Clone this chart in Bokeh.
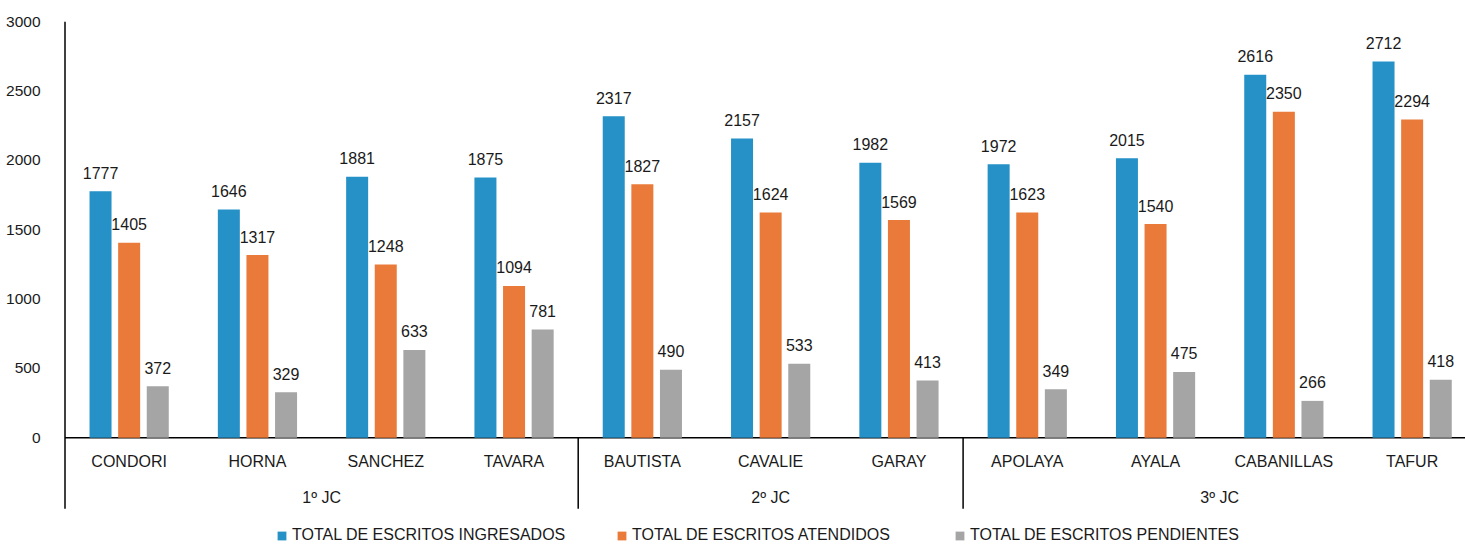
from bokeh.plotting import figure
from bokeh.models import (Range1d, FixedTicker, LinearAxis, Legend, LegendItem,
                          ColumnDataSource)
from bokeh.core.properties import value
from bokeh.embed import file_html
from bokeh.resources import INLINE
import numpy as np

# ---- data ----
categories = ["CONDORI", "HORNA", "SANCHEZ", "TAVARA", "BAUTISTA", "CAVALIE",
              "GARAY", "APOLAYA", "AYALA", "CABANILLAS", "TAFUR"]
groups = ["1º JC", "2º JC", "3º JC"]
group_sizes = [4, 3, 4]
ingresados = [1777, 1646, 1881, 1875, 2317, 2157, 1982, 1972, 2015, 2616, 2712]
atendidos = [1405, 1317, 1248, 1094, 1827, 1624, 1569, 1623, 1540, 2350, 2294]
pendientes = [372, 329, 633, 781, 490, 533, 413, 349, 475, 266, 418]
series_names = ["TOTAL DE ESCRITOS INGRESADOS", "TOTAL DE ESCRITOS ATENDIDOS",
                "TOTAL DE ESCRITOS PENDIENTES"]
y_ticks = [0, 500, 1000, 1500, 2000, 2500, 3000]

# ---- style / layout ----
COLORS = ["#2591C7", "#EA7A39", "#A5A5A5"]
FONT = "Liberation Sans"
TXT = "#1a1a1a"
W, H = 1465, 544
LEFT, TOP = 62, 21
PLOT_H_0_3000 = 416.3               # pixels between 0 and 3000
UPP = 3000 / PLOT_H_0_3000          # data units per pixel (y)
Y_MIN = -(H - TOP - PLOT_H_0_3000) * UPP
CAT_PX = 128.3                      # pixels per category
XPP = 2.0 / CAT_PX                  # x data units per pixel (2 units / category)
X_MIN = -2.5 * XPP
X_MAX = X_MIN + (W - LEFT) * XPP
AXIS_DROP = -71 * UPP               # bottom of the category / group separators

CAT_W = 2.0
centers = np.arange(len(categories)) * CAT_W + CAT_W / 2
offsets = [-0.446, 0.0, 0.446]
BAR_W = 0.343

p = figure(width=W, height=H, output_backend="svg", toolbar_location=None,
           x_range=Range1d(X_MIN, X_MAX), y_range=Range1d(Y_MIN, 3000),
           min_border_left=LEFT, min_border_right=0, min_border_top=TOP,
           min_border_bottom=0, x_axis_type=None, y_axis_type=None)
p.outline_line_color = None
p.xgrid.visible = False
p.ygrid.visible = False
p.background_fill_color = "white"
p.border_fill_color = "white"

# ---- y axis (labels) ----
yax = LinearAxis(ticker=FixedTicker(ticks=y_ticks, minor_ticks=[]))
yax.axis_line_color = None
yax.major_tick_line_color = None
yax.minor_tick_line_color = None
yax.major_label_standoff = 16
yax.major_label_text_font = FONT
yax.major_label_text_font_size = "15.5px"
yax.major_label_text_color = TXT
p.add_layout(yax, "left")

# ---- axis lines: vertical axis, baseline, group separators ----
bounds = [0]
for s in group_sizes:
    bounds.append(bounds[-1] + s)
p.segment(x0=[0], y0=[AXIS_DROP], x1=[0], y1=[3000], line_color="black", line_width=1.5)
p.segment(x0=[0], y0=[0], x1=[len(categories) * CAT_W], y1=[0],
          line_color="black", line_width=1.5)
sep_x = [b * CAT_W for b in bounds[1:-1]]
p.segment(x0=sep_x, y0=[0] * len(sep_x), x1=sep_x, y1=[AXIS_DROP] * len(sep_x),
          line_color="black", line_width=1.5)

# ---- category & group labels ----
p.text(x=list(centers), y=[0] * len(categories), text=categories,
       text_align="center", text_baseline="alphabetic", y_offset=24,
       text_font=value(FONT), text_font_size="16px", text_color=TXT)
g_centers = [(bounds[i] + bounds[i + 1]) * CAT_W / 2 for i in range(len(groups))]
p.text(x=g_centers, y=[0] * len(groups), text=groups,
       text_align="center", text_baseline="alphabetic", y_offset=60,
       text_font=value(FONT), text_font_size="16px", text_color=TXT)

# ---- bars + value labels ----
renderers = []
for k, (vals, col) in enumerate(zip([ingresados, atendidos, pendientes], COLORS)):
    src = ColumnDataSource(dict(x=centers + offsets[k], top=vals,
                                lab=[str(v) for v in vals]))
    r = p.vbar(x="x", top="top", bottom=0, width=BAR_W, source=src,
               fill_color=col, line_color=None)
    renderers.append(r)
    p.text(x="x", y="top", text="lab", source=src, text_align="center",
           text_baseline="alphabetic", y_offset=-18.5,
           text_font=value(FONT), text_font_size="16px", text_color=TXT)

# ---- legends (three equally spaced items) ----
leg_x = [214, 554, 892]
for k in range(3):
    lg = Legend(items=[LegendItem(label=series_names[k], renderers=[renderers[k]])],
                location=(leg_x[k], -1), orientation="horizontal",
                glyph_width=11, glyph_height=11, label_standoff=5,
                padding=0, margin=0, spacing=0,
                label_text_font=FONT, label_text_font_size="16px",
                label_text_color=TXT, border_line_color=None,
                background_fill_alpha=0, label_height=20)
    p.add_layout(lg, "center")

open("out.html", "w").write(file_html(p, INLINE))
